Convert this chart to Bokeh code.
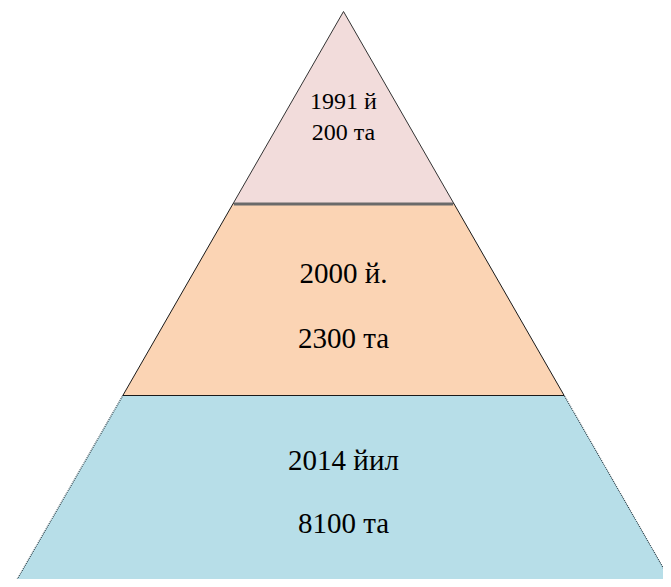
from bokeh.plotting import figure
from bokeh.models import Range1d, ColumnDataSource
from bokeh.core.properties import value
from bokeh.embed import file_html
from bokeh.resources import INLINE

# ---- data ----
years = ["1991 й", "2000 й.", "2014 йил"]
counts = ["200 та", "2300 та", "8100 та"]
fills = ["#F2DCDB", "#FBD4B4", "#B7DEE8"]

# ---- layout (reference pixel space) ----
W, H = 663, 579
apex_x, apex_y = 343, 11
base_y = 587
base_half = 331
n = len(years)
tier_h = (base_y - apex_y) / n

def half_w(y):
    return base_half * (y - apex_y) / (base_y - apex_y)

p = figure(width=W, height=H, output_backend="svg", toolbar_location=None,
           x_range=Range1d(0, W), y_range=Range1d(H, 0),
           min_border=0, outline_line_color=None)
p.axis.visible = False
p.grid.visible = False
p.background_fill_color = "white"
p.border_fill_color = "white"

line_styles = [dict(line_color="#333333", line_width=1, line_dash="solid"),
               dict(line_color="#1a1a1a", line_width=1, line_dash="solid"),
               dict(line_color="#2a3f48", line_width=1.2, line_dash="1 1")]

for i in reversed(range(n)):
    yt = apex_y + i * tier_h
    yb = apex_y + (i + 1) * tier_h
    ht, hb = half_w(yt), half_w(yb)
    if i == 0:
        xs = [apex_x, apex_x + hb, apex_x - hb]
        ys = [yt, yb, yb]
    else:
        xs = [apex_x - ht, apex_x + ht, apex_x + hb, apex_x - hb]
        ys = [yt, yt, yb, yb]
    p.patch(xs, ys, fill_color=fills[i], **line_styles[i])

yb0 = apex_y + tier_h + 0.5
p.line([apex_x - half_w(yb0) + 1, apex_x + half_w(yb0) - 1], [yb0, yb0],
       line_color="#6a6a6a", line_width=3)

sizes = ["24px", "29px", "29px"]
y_line1 = [100, 272, 459]
y_line2 = [131, 337, 522]
for i in range(n):
    src = ColumnDataSource(dict(x=[apex_x, apex_x], y=[y_line1[i], y_line2[i]],
                                t=[years[i], counts[i]]))
    p.text(x="x", y="y", text="t", source=src, text_align="center",
           text_baseline="alphabetic",
           text_font=value("Times New Roman"),
           text_font_size=sizes[i], text_color="#000000")

open("out.html", "w").write(file_html(p, INLINE))
